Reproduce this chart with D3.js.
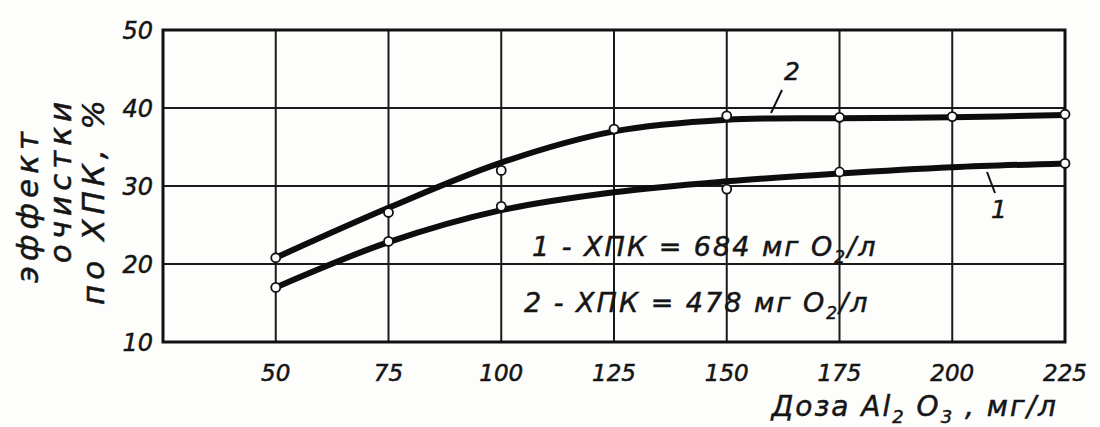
<!DOCTYPE html>
<html>
<head>
<meta charset="utf-8">
<script src="https://cdn.jsdelivr.net/npm/d3@7"></script>
<style>
  body { margin: 0; background: #fdfdfb; }
  svg text { font-family: "DejaVu Sans", sans-serif; font-style: italic; fill: #151515; stroke: #151515; stroke-width: 0.5; }
</style>
</head>
<body>
<svg id="chart" width="1100" height="427"></svg>
<script>
// dose of Al2O3, mg/l
var doses = [50, 75, 100, 125, 150, 175, 200, 225];
var yTicks = [10, 20, 30, 40, 50];

// measured points (open circles)
var pts1 = [[50, 17.0], [75, 22.9], [100, 27.4], [150, 29.6], [175, 31.8], [225, 32.9]];
var pts2 = [[50, 20.8], [75, 26.6], [100, 32.0], [125, 37.3], [150, 39.0], [175, 38.8], [200, 38.9], [225, 39.2]];

// smoothed curves drawn through the points
var curve1 = [17.0, 22.8, 26.9, 29.2, 30.6, 31.6, 32.4, 32.9];
var curve2 = [20.8, 27.2, 33.0, 37.0, 38.5, 38.7, 38.8, 39.1];

var legend = ["1 - ХПК = 684 мг O", "2 - ХПК = 478 мг O"];
var yTitle = ["эффект", "очистки", "по ХПК, %"];

var svg = d3.select("#chart");

var x = d3.scaleLinear().domain([25, 225]).range([163, 1065]);
var y = d3.scaleLinear().domain([10, 50]).range([342, 30]);

// grid
var grid = svg.append("g").attr("stroke", "#1a1a1a").attr("stroke-width", 2);
grid.selectAll(".gx").data(doses).enter().append("line")
    .attr("x1", function(d){ return x(d); }).attr("x2", function(d){ return x(d); })
    .attr("y1", y(50)).attr("y2", y(10));
grid.selectAll(".gy").data(yTicks).enter().append("line")
    .attr("x1", x(25)).attr("x2", x(225))
    .attr("y1", function(d){ return y(d); }).attr("y2", function(d){ return y(d); });

svg.append("rect")
    .attr("x", x(25)).attr("y", y(50))
    .attr("width", x(225) - x(25)).attr("height", y(10) - y(50))
    .attr("fill", "none").attr("stroke", "#111").attr("stroke-width", 3);

// tick labels
svg.selectAll(".xl").data(doses).enter().append("text")
    .attr("x", function(d){ return x(d); }).attr("y", 381)
    .attr("text-anchor", "middle").attr("font-size", 23)
    .text(function(d){ return d; });
svg.selectAll(".yl").data(yTicks).enter().append("text")
    .attr("x", 153).attr("y", function(d){ return y(d) + 9; })
    .attr("text-anchor", "end").attr("font-size", 24)
    .text(function(d){ return d; });

// curves
var line = d3.line()
    .x(function(d){ return x(d[0]); })
    .y(function(d){ return y(d[1]); })
    .curve(d3.curveCatmullRom);

[curve1, curve2].forEach(function(c){
    svg.append("path")
        .datum(doses.map(function(d, i){ return [d, c[i]]; }))
        .attr("d", line)
        .attr("fill", "none").attr("stroke", "#0d0d0d")
        .attr("stroke-width", 6).attr("stroke-linecap", "round");
});

// markers
[pts1, pts2].forEach(function(p){
    svg.selectAll(null).data(p).enter().append("circle")
        .attr("cx", function(d){ return x(d[0]); })
        .attr("cy", function(d){ return y(d[1]); })
        .attr("r", 4.5)
        .attr("fill", "#fdfdfb").attr("stroke", "#111").attr("stroke-width", 1.8);
});

// curve numbers with leader lines
svg.append("line").attr("x1", 782).attr("y1", 90).attr("x2", 771).attr("y2", 113)
    .attr("stroke", "#111").attr("stroke-width", 2);
svg.append("text").attr("x", 792).attr("y", 80).attr("text-anchor", "middle")
    .attr("font-size", 25).text("2");
svg.append("line").attr("x1", 987).attr("y1", 172).attr("x2", 995).attr("y2", 193)
    .attr("stroke", "#111").attr("stroke-width", 2);
svg.append("text").attr("x", 999).attr("y", 218).attr("text-anchor", "middle")
    .attr("font-size", 25).text("1");

// legend
legend.forEach(function(t, i){
    var tx = svg.append("text")
        .attr("x", i == 0 ? 532 : 524).attr("y", 256 + i * 56)
        .attr("font-size", 27).attr("letter-spacing", 2);
    tx.append("tspan").text(t);
    tx.append("tspan").attr("font-size", 17).attr("dy", 7).text("2");
    tx.append("tspan").attr("dy", -7).text("/л");
});

// x title
var xt = svg.append("text").attr("x", 1058).attr("y", 416)
    .attr("text-anchor", "end").attr("font-size", 28).attr("letter-spacing", 2);
xt.append("tspan").text("Доза Al");
xt.append("tspan").attr("font-size", 18).attr("dy", 7).text("2");
xt.append("tspan").attr("dy", -7).text(" O");
xt.append("tspan").attr("font-size", 18).attr("dy", 7).text("3");
xt.append("tspan").attr("dy", -7).text(" , мг/л");

// y title, three rotated lines
yTitle.forEach(function(t, i){
    svg.append("text")
        .attr("transform", "translate(" + (38 + i * 33) + "," + [205, 180, 200][i] + ") rotate(-90)")
        .attr("text-anchor", "middle").attr("font-size", 31).attr("letter-spacing", 5)
        .text(t);
});
</script>
</body>
</html>
